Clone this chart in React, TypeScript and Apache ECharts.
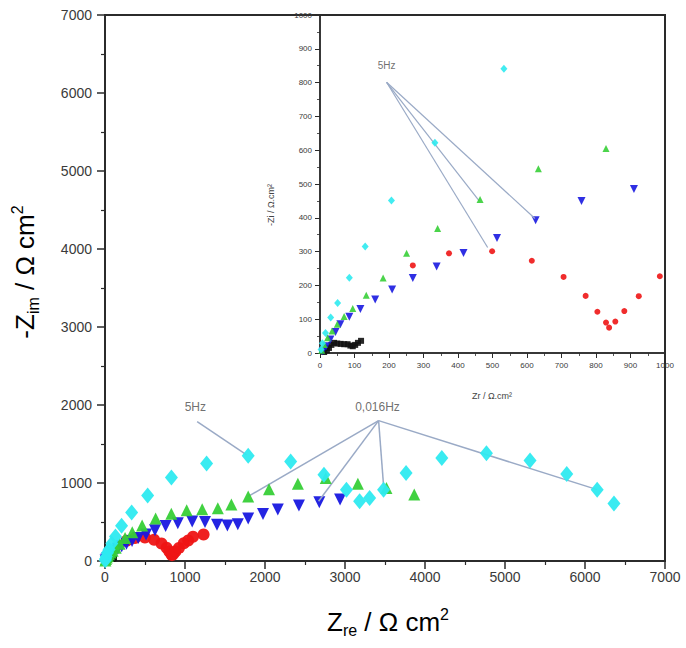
import React, { useEffect, useRef } from "react";
import * as echarts from "echarts";

const FONT = "'Liberation Sans', Arial, Helvetica, sans-serif";

// ---- data (Zre, -Zim) in Ω cm² ----
const cyanData: number[][] = [
  [3, 10], [7, 29], [16, 59], [31, 105], [51, 148], [85, 223], [131, 315], [207, 451],
  [333, 622], [533, 841], [830, 1070], [1270, 1250], [1790, 1350], [2321, 1277],
  [2737, 1106], [3018, 915], [3183, 766], [3308, 809], [3482, 915], [3763, 1128],
  [4210, 1319], [4768, 1383], [5313, 1289], [5772, 1115], [6152, 915], [6362, 736],
];
const greenData: number[][] = [
  [5, 8], [12, 25], [22, 45], [35, 65], [50, 85], [70, 108], [95, 132], [134, 171],
  [183, 222], [251, 295], [341, 368], [464, 454], [633, 545], [829, 605], [1021, 650],
  [1215, 662], [1410, 676], [1580, 724], [1790, 828], [2050, 920], [2411, 991],
  [2759, 1064], [3161, 991], [3518, 936], [3866, 851],
];
const blueData: number[][] = [
  [8, 5], [18, 20], [30, 40], [45, 62], [59, 85], [85, 107], [117, 130], [160, 158],
  [209, 188], [269, 222], [338, 256], [416, 296], [513, 340], [625, 393], [758, 450],
  [910, 485], [1090, 505], [1250, 500], [1400, 466], [1530, 455], [1660, 472],
  [1790, 545], [1975, 603], [2160, 660], [2424, 711], [2679, 753], [2938, 787],
];
const redData: number[][] = [
  [269, 259], [374, 295], [499, 301], [614, 273], [706, 225], [770, 169], [804, 122],
  [829, 90], [838, 75], [856, 93], [882, 124], [924, 168], [985, 227], [1040, 262],
  [1100, 310], [1232, 340],
];
const blackData: number[][] = [
  [12, 3], [20, 8], [26, 15], [33, 24], [41, 30], [50, 28], [60, 27], [70, 26],
  [80, 26], [88, 22], [95, 20], [102, 24], [110, 30], [119, 36],
];

// ---- annotations (data coordinates) ----
const mainLabel5Hz = [1129, 1979];
const main5HzFrom = [1152, 1787];
const main5HzTo: number[][] = [[1770, 1360]];
const mainLabel016 = [3406, 1979];
const main016From = [3420, 1800];
const main016To: number[][] = [[1790, 828], [2670, 766], [3482, 966], [6152, 915]];
const insetLabel5Hz = [193, 851];
const inset5HzFrom = [193, 801];
const inset5HzTo: number[][] = [[486, 312], [462, 449], [623, 398]];

const COL = {
  cyan: "#2EEAF0",
  green: "#37CF37",
  blue: "#1818E0",
  red: "#EE1515",
  black: "#111111",
  axis: "#2b2b2b",
  label: "#3a3a3a",
  annot: "#9AAAC6",
};

const plain = (v: number) => String(v);

function axisCommon(size: "main" | "inset") {
  const main = size === "main";
  return {
    type: "value",
    axisLine: { show: true, onZero: false, lineStyle: { color: COL.axis, width: main ? 2 : 1.5 } },
    axisTick: { show: true, inside: false, length: main ? 8 : 5, lineStyle: { color: COL.axis, width: main ? 1.5 : 1 } },
    minorTick: { show: true, splitNumber: 2, length: main ? 4 : 3, lineStyle: { color: COL.axis, width: main ? 1.2 : 0.8 } },
    splitLine: { show: false },
    minorSplitLine: { show: false },
  };
}

export default function App() {
  const ref = useRef<HTMLDivElement>(null);
  useEffect(() => {
    const chart = echarts.init(ref.current!, null, { renderer: "svg" });

    const scatterPair = (
      data: number[][],
      symbol: string,
      color: string,
      mainSize: number | number[],
      insetSize: number | number[],
      rotate: number,
      z: number
    ) => [
      {
        type: "scatter", xAxisIndex: 0, yAxisIndex: 0, data, symbol, symbolRotate: rotate,
        symbolSize: mainSize, itemStyle: { color, opacity: 0.95 }, clip: true, z, silent: true,
      },
      {
        type: "scatter", xAxisIndex: 1, yAxisIndex: 1, data, symbol, symbolRotate: rotate,
        symbolSize: insetSize, itemStyle: { color, opacity: 0.9 }, clip: true, z, silent: true,
      },
    ];

    const segs = (from: number[], tos: number[][], axis: number, width: number) =>
      tos.map((to) => ({
        type: "line", xAxisIndex: axis, yAxisIndex: axis, data: [from, to], symbol: "none",
        lineStyle: { color: COL.annot, width }, z: 5, silent: true,
      }));

    const textMark = (pos: number[], text: string, axis: number, fontSize: number) => ({
      type: "scatter", xAxisIndex: axis, yAxisIndex: axis, symbolSize: 0.1,
      data: [{ value: pos, name: text }], itemStyle: { color: "transparent" }, z: 6, silent: true,
      label: { show: true, position: "inside", formatter: "{b}", color: "#4a4a4a", fontSize, fontFamily: FONT },
    });

    const titleRich = (big: number, small: number) => ({
      a: { fontSize: big, fontFamily: FONT, color: "#222", lineHeight: big + 6, verticalAlign: "middle" },
      s: { fontSize: small, fontFamily: FONT, color: "#222", lineHeight: small, verticalAlign: "bottom" },
      p: { fontSize: small, fontFamily: FONT, color: "#222", lineHeight: small, verticalAlign: "top" },
    });

    const option: any = {
      animation: false,
      backgroundColor: "#ffffff",
      grid: [
        { left: 105, top: 15, width: 560, height: 546, show: true, borderColor: COL.axis, borderWidth: 2, backgroundColor: "transparent" },
        { left: 320, top: 15, width: 345, height: 338, show: true, borderColor: COL.axis, borderWidth: 1.5, backgroundColor: "transparent" },
      ],
      xAxis: [
        {
          ...axisCommon("main"), gridIndex: 0, min: 0, max: 7000, interval: 1000,
          axisLabel: { color: COL.label, fontSize: 14, margin: 9, fontFamily: FONT, formatter: plain },
        },
        {
          ...axisCommon("inset"), gridIndex: 1, min: 0, max: 1000, interval: 100,
          axisLabel: { color: COL.label, fontSize: 8, margin: 8, fontFamily: FONT, formatter: plain },
        },
      ],
      yAxis: [
        {
          ...axisCommon("main"), gridIndex: 0, min: 0, max: 7000, interval: 1000,
          axisLabel: { color: COL.label, fontSize: 14, margin: 13, fontFamily: FONT, formatter: plain },
        },
        {
          ...axisCommon("inset"), gridIndex: 1, min: 0, max: 1000, interval: 100,
          axisLabel: { color: COL.label, fontSize: 8, margin: 8, fontFamily: FONT, formatter: plain },
        },
      ],
      series: [
        ...scatterPair(blackData, "rect", COL.black, 5, 6, 0, 2),
        ...scatterPair(redData, "circle", COL.red, 12, 6, 0, 3),
        ...scatterPair(blueData, "triangle", COL.blue, 12, 8, 180, 4),
        ...scatterPair(greenData, "triangle", COL.green, 12, 7, 0, 5),
        ...scatterPair(cyanData, "diamond", COL.cyan, [13, 16], [7, 8], 0, 6),
        ...segs(main5HzFrom, main5HzTo, 0, 1.5),
        ...segs(main016From, main016To, 0, 1.5),
        ...segs(inset5HzFrom, inset5HzTo, 1, 1.2),
        textMark(mainLabel5Hz, "5Hz", 0, 12),
        textMark(mainLabel016, "0,016Hz", 0, 12),
        textMark(insetLabel5Hz, "5Hz", 1, 10),
      ],
      graphic: [
        {
          type: "text", x: 388, y: 622, silent: true,
          style: { text: "{a|Z}{s|re}{a| / Ω cm}{p|2}", rich: titleRich(26, 16), align: "center", verticalAlign: "middle" },
        },
        {
          type: "text", x: 25, y: 272, rotation: Math.PI / 2, silent: true,
          style: { text: "{a|-Z}{s|im}{a| / Ω cm}{p|2}", rich: titleRich(26, 16), align: "center", verticalAlign: "middle" },
        },
        {
          type: "text", x: 492, y: 396, silent: true,
          style: { text: "Zr / Ω.cm²", fontSize: 9, fontFamily: FONT, fill: "#444", align: "center", verticalAlign: "middle" },
        },
        {
          type: "text", x: 271, y: 205, rotation: Math.PI / 2, silent: true,
          style: { text: "-Zi / Ω.cm²", fontSize: 9, fontFamily: FONT, fill: "#444", align: "center", verticalAlign: "middle" },
        },
      ],
    };
    chart.setOption(option);
    return () => chart.dispose();
  }, []);
  return <div ref={ref} style={{ position: "absolute", left: 0, top: 0, width: 686, height: 648 }} />;
}
